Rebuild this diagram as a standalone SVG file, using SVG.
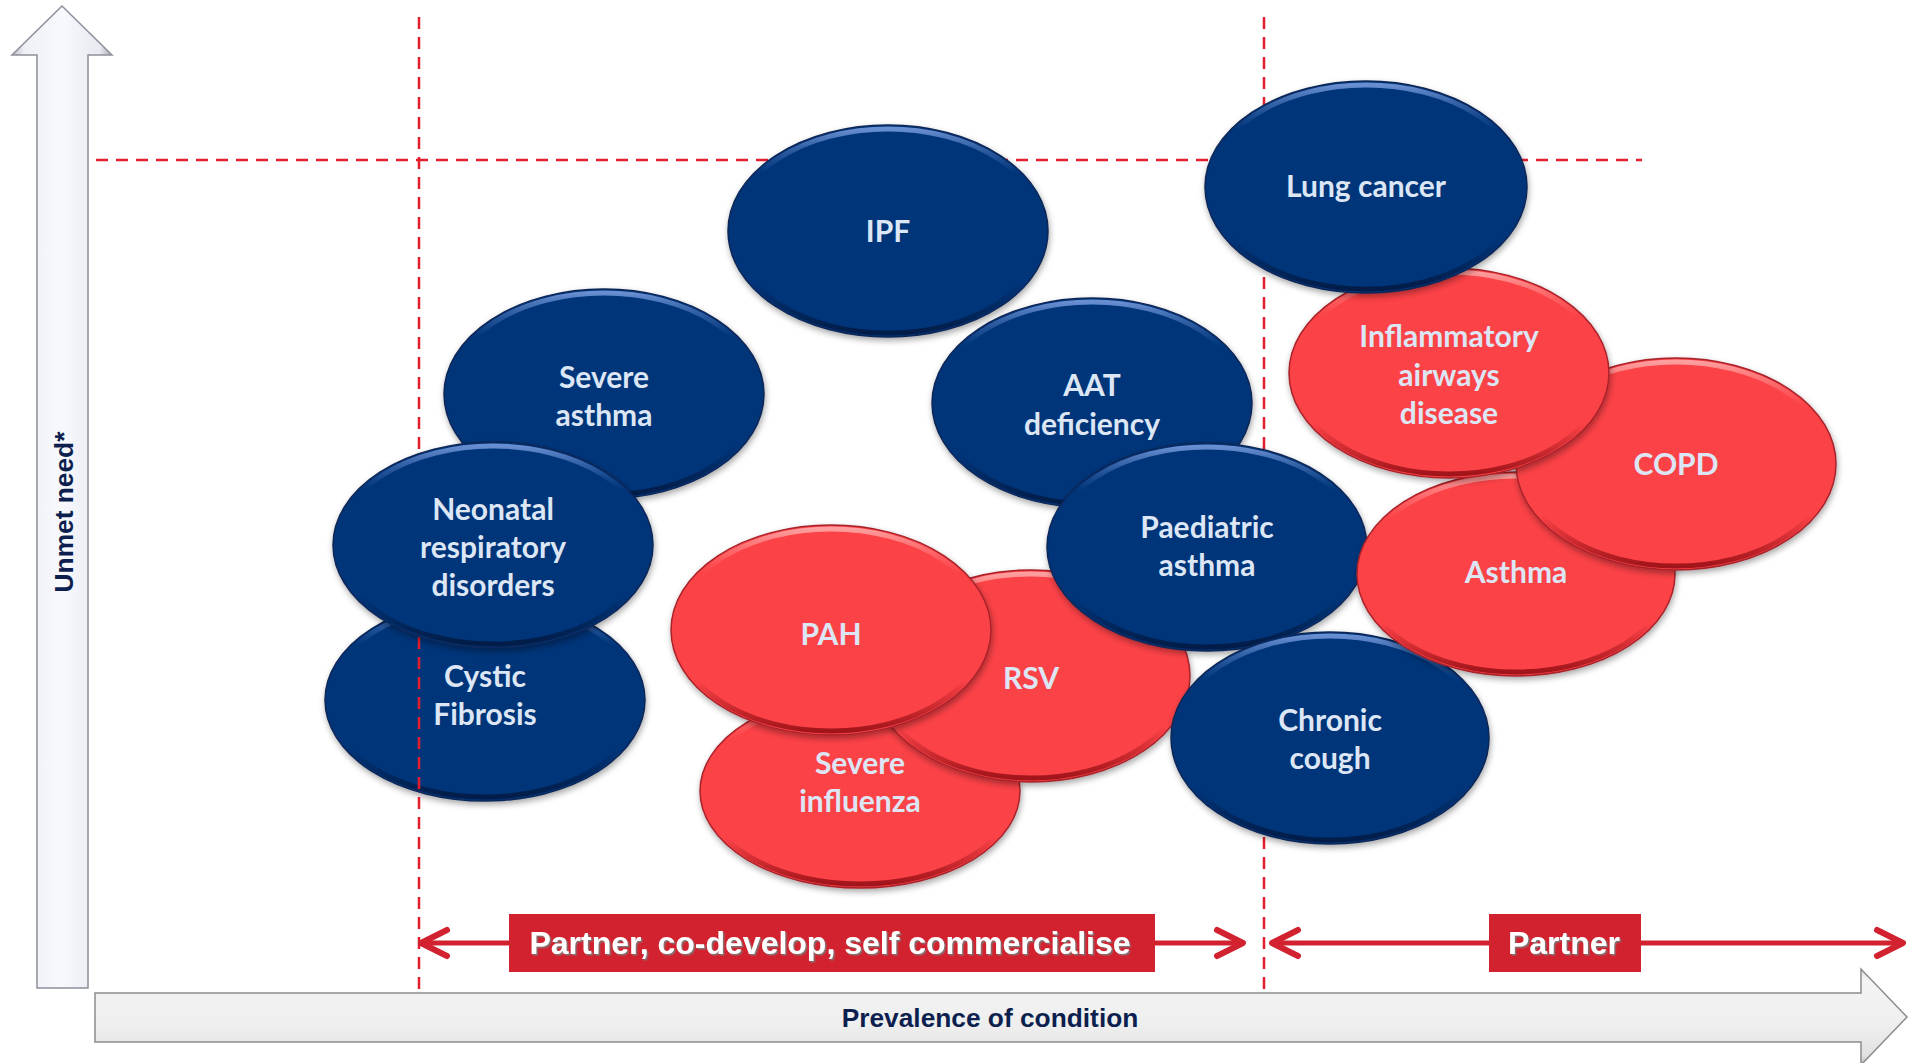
<svg xmlns="http://www.w3.org/2000/svg" width="1917" height="1063" viewBox="0 0 1917 1063">
<defs>
  <linearGradient id="vShaft" x1="0" y1="0" x2="1" y2="0">
    <stop offset="0" stop-color="#b9bcc6"/>
    <stop offset="0.12" stop-color="#eef0f6"/>
    <stop offset="0.5" stop-color="#f8f9fd"/>
    <stop offset="0.88" stop-color="#e8eaf1"/>
    <stop offset="1" stop-color="#a9acb6"/>
  </linearGradient>
  <linearGradient id="hShaft" x1="0" y1="0" x2="0" y2="1">
    <stop offset="0" stop-color="#d6d6d6"/>
    <stop offset="0.1" stop-color="#f4f4f4"/>
    <stop offset="0.6" stop-color="#eeeeee"/>
    <stop offset="0.9" stop-color="#e2e2e2"/>
    <stop offset="1" stop-color="#b8b8b8"/>
  </linearGradient>
  <linearGradient id="rimB" x1="0" y1="0" x2="0" y2="1">
    <stop offset="0" stop-color="#6d93d6" stop-opacity="0.95"/>
    <stop offset="0.22" stop-color="#4a73b8" stop-opacity="0"/>
    <stop offset="0.75" stop-color="#021b45" stop-opacity="0"/>
    <stop offset="1" stop-color="#021b45" stop-opacity="0.95"/>
  </linearGradient>
  <linearGradient id="rimR" x1="0" y1="0" x2="0" y2="1">
    <stop offset="0" stop-color="#ffa3a3" stop-opacity="0.95"/>
    <stop offset="0.22" stop-color="#ff8080" stop-opacity="0"/>
    <stop offset="0.75" stop-color="#9c1218" stop-opacity="0"/>
    <stop offset="1" stop-color="#9c1218" stop-opacity="0.95"/>
  </linearGradient>
  <filter id="sh" x="-10%" y="-10%" width="120%" height="130%">
    <feDropShadow dx="1" dy="3" stdDeviation="3" flood-color="#000" flood-opacity="0.35"/>
  </filter>
  <filter id="tsh" x="-5%" y="-20%" width="110%" height="140%">
    <feDropShadow dx="1.5" dy="1.5" stdDeviation="0.6" flood-color="#7a7a7a" flood-opacity="0.9"/>
  </filter>
  <marker id="chev" markerUnits="userSpaceOnUse" markerWidth="40" markerHeight="40" viewBox="-34 -20 40 40" refX="0" refY="0" orient="auto-start-reverse" overflow="visible">
    <path d="M-26,-13 L0,0 L-26,13" fill="none" stroke="#d3222f" stroke-width="6" stroke-linecap="round" stroke-linejoin="round"/>
  </marker>
  <style>
    .body-b{fill:#06347a;stroke:#0a2757;stroke-width:1.5;filter:url(#sh)}
    .body-r{fill:#fb4247;stroke:#a8222b;stroke-width:1.5;filter:url(#sh)}
    .rim-b{fill:none;stroke:url(#rimB);stroke-width:5}
    .rim-r{fill:none;stroke:url(#rimR);stroke-width:5}
    .lbl{font-family:Lato,"Open Sans","Liberation Sans",sans-serif;font-weight:700;font-size:30px;fill:#dce6f4;text-anchor:middle}
    .guide{fill:none;stroke:#e31e2d;stroke-width:2.5;stroke-dasharray:12 8}
    .band{fill:#d3222f}
    .bandtxt{font-family:"Liberation Sans",Arial,sans-serif;font-weight:700;font-size:32px;fill:#ffffff;text-anchor:middle;filter:url(#tsh)}
    .arrow{fill:none;stroke:#d3222f;stroke-width:5}
    .axis{font-family:"Liberation Sans",Arial,sans-serif;font-weight:700;font-size:26.3px;fill:#0d1f4e;text-anchor:middle}
  </style>
</defs>

<rect width="1917" height="1063" fill="#ffffff"/>

<g id="axis-y">
  <polygon points="37,988 37,55 12,55 62,6 112,55 88,55 88,988" fill="url(#vShaft)" stroke="#8d9099" stroke-width="1.5"/>
  <text class="axis" transform="translate(73,512) rotate(-90)">Unmet need*</text>
</g>
<g id="axis-x">
  <polygon points="95,993 1861,993 1861,969 1907,1017 1861,1065 1861,1042 95,1042" fill="url(#hShaft)" stroke="#8c8c8c" stroke-width="1.5"/>
  <text class="axis" x="990" y="1027">Prevalence of condition</text>
</g>

<g id="node-cystic-fibrosis" transform="translate(485,700)">
  <ellipse class="body-b" rx="160" ry="101"/>
  <ellipse class="rim-b" rx="156" ry="97"/>
  <text class="lbl" y="-13">Cystic</text>
  <text class="lbl" y="25">Fibrosis</text>
</g>

<g id="connectors">
  <line class="guide" x1="419" y1="17" x2="419" y2="992"/>
  <line class="guide" x1="1264" y1="17" x2="1264" y2="992"/>
  <line class="guide" x1="96" y1="160" x2="1642" y2="160"/>
  <line class="arrow" x1="421" y1="943" x2="1243" y2="943" marker-start="url(#chev)" marker-end="url(#chev)"/>
  <line class="arrow" x1="1272" y1="943" x2="1903" y2="943" marker-start="url(#chev)" marker-end="url(#chev)"/>
</g>

<g id="band-partner-codevelop">
  <rect class="band" x="509" y="914" width="646" height="58"/>
  <text class="bandtxt" x="830" y="954">Partner, co-develop, self commercialise</text>
</g>
<g id="band-partner">
  <rect class="band" x="1489" y="914" width="152" height="58"/>
  <text class="bandtxt" x="1564" y="954">Partner</text>
</g>

<g id="node-severe-asthma" transform="translate(604,394)">
  <ellipse class="body-b" rx="160" ry="105"/>
  <ellipse class="rim-b" rx="156" ry="101"/>
  <text class="lbl" y="-6">Severe</text>
  <text class="lbl" y="32">asthma</text>
</g>

<g id="node-neonatal" transform="translate(493,545)">
  <ellipse class="body-b" rx="160" ry="103"/>
  <ellipse class="rim-b" rx="156" ry="99"/>
  <text class="lbl" y="-25">Neonatal</text>
  <text class="lbl" y="13">respiratory</text>
  <text class="lbl" y="51">disorders</text>
</g>

<g id="node-ipf" transform="translate(888,231)">
  <ellipse class="body-b" rx="160" ry="106"/>
  <ellipse class="rim-b" rx="156" ry="102"/>
  <text class="lbl" y="11">IPF</text>
</g>

<g id="node-aat" transform="translate(1092,403)">
  <ellipse class="body-b" rx="160" ry="105"/>
  <ellipse class="rim-b" rx="156" ry="101"/>
  <text class="lbl" y="-7">AAT</text>
  <text class="lbl" y="32">deficiency</text>
</g>

<g id="node-severe-influenza" transform="translate(860,791)">
  <ellipse class="body-r" rx="160" ry="97"/>
  <ellipse class="rim-r" rx="156" ry="93"/>
  <text class="lbl" y="-17">Severe</text>
  <text class="lbl" y="21">influenza</text>
</g>

<g id="node-rsv" transform="translate(1031,676)">
  <ellipse class="body-r" rx="159" ry="106"/>
  <ellipse class="rim-r" rx="155" ry="102"/>
  <text class="lbl" y="13">RSV</text>
</g>

<g id="node-pah" transform="translate(831,630)">
  <ellipse class="body-r" rx="160" ry="105"/>
  <ellipse class="rim-r" rx="156" ry="101"/>
  <text class="lbl" y="15">PAH</text>
</g>

<g id="node-paediatric-asthma" transform="translate(1207,547)">
  <ellipse class="body-b" rx="160" ry="104"/>
  <ellipse class="rim-b" rx="156" ry="100"/>
  <text class="lbl" y="-9">Paediatric</text>
  <text class="lbl" y="29">asthma</text>
</g>

<g id="node-chronic-cough" transform="translate(1330,738)">
  <ellipse class="body-b" rx="159" ry="106"/>
  <ellipse class="rim-b" rx="155" ry="102"/>
  <text class="lbl" y="-7">Chronic</text>
  <text class="lbl" y="31">cough</text>
</g>

<g id="node-asthma" transform="translate(1516,574)">
  <ellipse class="body-r" rx="159" ry="102"/>
  <ellipse class="rim-r" rx="155" ry="98"/>
  <text class="lbl" y="9">Asthma</text>
</g>

<g id="node-copd" transform="translate(1676,464)">
  <ellipse class="body-r" rx="160" ry="106"/>
  <ellipse class="rim-r" rx="156" ry="102"/>
  <text class="lbl" y="11">COPD</text>
</g>

<g id="node-inflammatory" transform="translate(1449,373)">
  <ellipse class="body-r" rx="160" ry="105"/>
  <ellipse class="rim-r" rx="156" ry="101"/>
  <text class="lbl" y="-26">Inflammatory</text>
  <text class="lbl" y="13">airways</text>
  <text class="lbl" y="51">disease</text>
</g>

<g id="node-lung-cancer" transform="translate(1366,187)">
  <ellipse class="body-b" rx="161" ry="106"/>
  <ellipse class="rim-b" rx="157" ry="102"/>
  <text class="lbl" y="10">Lung cancer</text>
</g>
</svg>
